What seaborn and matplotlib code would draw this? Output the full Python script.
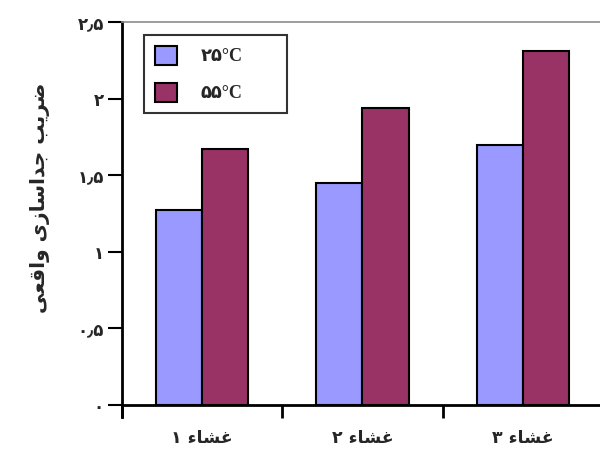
import matplotlib
matplotlib.use("Agg")
import matplotlib.pyplot as plt
from matplotlib.patches import Patch
from matplotlib.ticker import FixedLocator
import seaborn as sns
import pandas as pd

# --- data ---
membranes = ["غشاء ۱", "غشاء ۲", "غشاء ۳"]
temperatures = ["۲۵°C", "۵۵°C"]
values_25 = [1.27, 1.45, 1.70]
values_55 = [1.67, 1.94, 2.31]
y_ticks = [0, 0.5, 1, 1.5, 2, 2.5]
y_tick_labels = ["۰", "۰٫۵", "۱", "۱٫۵", "۲", "۲٫۵"]
y_title = "ضریب جداسازی واقعی"
colors = ["#9999FF", "#993366"]

# --- minimal Arabic-script shaping (matplotlib draws glyphs without joining) ---
FORMS = {  # isolated, final, initial, medial
    "ا": ("\uFE8D", "\uFE8E", None, None),
    "ب": ("\uFE8F", "\uFE90", "\uFE91", "\uFE92"),
    "ج": ("\uFE9D", "\uFE9E", "\uFE9F", "\uFEA0"),
    "د": ("\uFEA9", "\uFEAA", None, None),
    "ر": ("\uFEAD", "\uFEAE", None, None),
    "ز": ("\uFEAF", "\uFEB0", None, None),
    "س": ("\uFEB1", "\uFEB2", "\uFEB3", "\uFEB4"),
    "ش": ("\uFEB5", "\uFEB6", "\uFEB7", "\uFEB8"),
    "ض": ("\uFEBD", "\uFEBE", "\uFEBF", "\uFEC0"),
    "ع": ("\uFEC9", "\uFECA", "\uFECB", "\uFECC"),
    "غ": ("\uFECD", "\uFECE", "\uFECF", "\uFED0"),
    "ق": ("\uFED5", "\uFED6", "\uFED7", "\uFED8"),
    "و": ("\uFEED", "\uFEEE", None, None),
    "ی": ("\uFBFC", "\uFBFD", "\uFBFE", "\uFBFF"),
    "ء": ("\uFE80", None, None, None),
}


def joins_left(ch):
    return ch in FORMS and FORMS[ch][2] is not None


def joins_right(ch):
    return ch in FORMS and FORMS[ch][1] is not None


def shape(text):
    out = []
    for i, ch in enumerate(text):
        if ch not in FORMS:
            out.append(ch)
            continue
        prev = text[i - 1] if i > 0 else ""
        nxt = text[i + 1] if i + 1 < len(text) else ""
        from_prev = joins_left(prev) and joins_right(ch)
        to_next = joins_left(ch) and joins_right(nxt)
        iso, fin, ini, med = FORMS[ch]
        if from_prev and to_next:
            out.append(med)
        elif from_prev:
            out.append(fin)
        elif to_next:
            out.append(ini)
        else:
            out.append(iso)
    return "".join(reversed(out))


df = pd.DataFrame({
    "membrane": membranes * 2,
    "temp": [temperatures[0]] * 3 + [temperatures[1]] * 3,
    "value": values_25 + values_55,
})

sns.set_style("white")
plt.rcParams["font.family"] = ["DejaVu Sans"]

fig = plt.figure(figsize=(6.0, 4.49), dpi=100)
ax = fig.add_axes([122 / 600, (449 - 417) / 449, 481 / 600, (417 - 22) / 449])

sns.barplot(data=df, x="membrane", y="value", hue="temp",
            hue_order=temperatures, palette=colors, width=0.575,
            edgecolor="black", linewidth=1.5, saturation=1,
            legend=False, ax=ax)

ax.set_xlim(-0.5, 2.5)
ax.set_ylim(-0.078, 2.5)

# spines
ax.spines["right"].set_visible(False)
ax.spines["top"].set_color("#8c8c8c")
ax.spines["top"].set_linewidth(1.2)
ax.spines["left"].set_linewidth(2.0)
ax.spines["left"].set_color("black")
ax.spines["bottom"].set_linewidth(2.0)
ax.spines["bottom"].set_color("black")
ax.spines["bottom"].set_position(("data", 0))

# y axis
ax.set_yticks(y_ticks)
ax.set_yticklabels(y_tick_labels, fontsize=12, fontweight="bold")
ax.tick_params(axis="y", direction="out", length=10, width=1.5,
               color="black", pad=3, left=True)
ax.set_ylabel("")

# x axis: labels at category centres, tick marks between categories
ax.set_xticks(range(len(membranes)))
ax.set_xticklabels([shape(m) for m in membranes], fontsize=12.5, fontweight="bold")
ax.tick_params(axis="x", which="major", length=0, pad=17)
ax.xaxis.set_minor_locator(FixedLocator([-0.5, 0.5, 1.5]))
ax.tick_params(axis="x", which="minor", direction="out", length=9,
               width=2.0, color="black", bottom=True)
ax.set_xlabel("")

fig.text(40 / 600, (449 - 198) / 449, shape(y_title), rotation=90,
         ha="center", va="center", fontsize=14.5, fontweight="bold")

# legend
handles = [Patch(facecolor=c, edgecolor="black", linewidth=1.5) for c in colors]
leg = ax.legend(handles, temperatures, loc="upper left",
                bbox_to_anchor=(22 / 481, 0.55, 143 / 481, 0.417),
                mode="expand", borderaxespad=0, frameon=True, fancybox=False,
                handlelength=1.25, handleheight=1.25, labelspacing=0.95,
                handletextpad=1.3, borderpad=0.6,
                prop={"family": ["Liberation Serif", "DejaVu Sans"],
                      "weight": "bold", "size": 13})
leg.get_frame().set_edgecolor("black")
leg.get_frame().set_linewidth(1.5)

fig.savefig("out.png", dpi=100)
